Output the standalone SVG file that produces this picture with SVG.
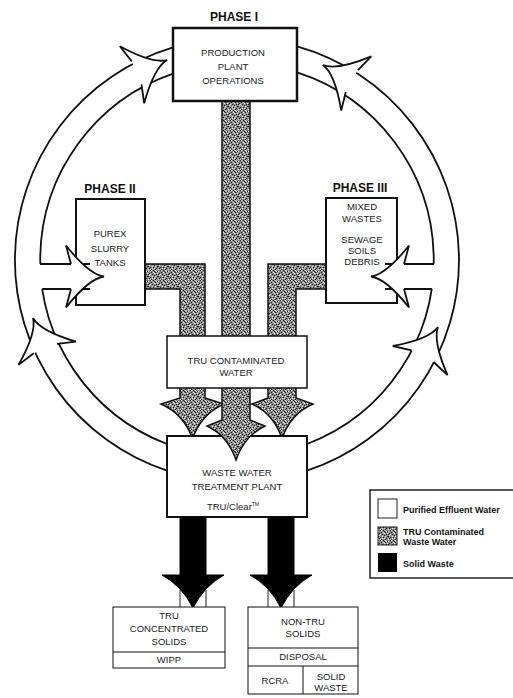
<svg xmlns="http://www.w3.org/2000/svg" xmlns:xlink="http://www.w3.org/1999/xlink" width="513" height="698" viewBox="0 0 513 698">
<style>
.box{fill:#fff;stroke:#111;}
.band{fill:#fff;stroke:#111;stroke-width:1.8;stroke-linejoin:round;}
.ln{fill:none;stroke:#111;stroke-width:1.8;}
.stip{fill:url(#stip);stroke:#111;stroke-width:1.5;stroke-linejoin:miter;}
.solid{fill:#000;stroke:#000;stroke-width:1;}
.t{font-family:"Liberation Sans",Arial,Helvetica,sans-serif;font-size:9.5px;fill:#222;text-anchor:middle;}
.ph{font-family:"Liberation Sans",Arial,Helvetica,sans-serif;font-size:12px;font-weight:bold;fill:#111;text-anchor:middle;}
.lg{font-family:"Liberation Sans",Arial,Helvetica,sans-serif;font-size:9px;font-weight:bold;fill:#111;}
</style>
<defs>
<pattern id="stip" width="10" height="10" patternUnits="userSpaceOnUse">
<rect width="10" height="10" fill="#8e8e8e"/>
<path d="M0 0h1v1H0zM3 0h1v1H3zM7 1h1v1H7zM1 2h1v1H1zM5 2h1v1H5zM9 3h1v1H9zM2 4h1v1H2zM6 4h1v1H6zM4 5h1v1H4zM8 6h1v1H8zM0 7h1v1H0zM3 7h1v1H3zM6 8h1v1H6zM9 8h1v1H9zM1 9h1v1H1zM5 9h1v1H5zM7 6h1v1H7zM4 1h1v1H4zM8 4h1v1H8z" fill="#1a1a1a"/>
<path d="M1 0h1v1H1zM5 0h1v1H5zM8 1h1v1H8zM3 2h1v1H3zM0 4h1v1H0zM4 3h1v1H4zM7 3h1v1H7zM9 5h1v1H9zM2 6h1v1H2zM5 6h1v1H5zM4 8h1v1H4zM8 9h1v1H8zM0 9h1v1H0zM2 8h1v1H2zM6 1h1v1H6z" fill="#e6e6e6"/>
</pattern>
<g id="head">
<path d="M0,0 Q-15,2 -38,31 L-33,12.5 L-33,-12.5 L-38,-31 Q-15,-2 0,0 Z" fill="#fff" stroke="none"/>
<path d="M-33,12.5 L-38,31 Q-15,2 0,0 Q-15,-2 -38,-31 L-33,-12.5" fill="none" stroke="#111" stroke-width="1.8" stroke-linejoin="miter"/>
</g>
</defs>

<g id="connectors">
<path class="band" d="M173,47.4 A222,222 0 0 0 167,470.7 L167,444 A197,197 0 0 1 173,73.7 Z"/>
<path class="band" d="M297,46.3 A222,222 0 0 1 307,470.7 L307,444 A197,197 0 0 0 297,72.4 Z"/>
<use xlink:href="#head" transform="translate(167,60) rotate(-23)"/>
<use xlink:href="#head" transform="translate(323,65) rotate(-151)"/>
<use xlink:href="#head" transform="translate(33,318) rotate(-112)"/>
<use xlink:href="#head" transform="translate(438,327) rotate(-62)"/>
<path class="stip" d="M180,386 V398 L161,404 Q184,414 192.5,439 Q201,414 224,404 L205,398 V386 Z"/>
<path class="stip" d="M268,386 V398 L252,404 Q274,414 282,439 Q290,414 313,404 L296,398 V386 Z"/>
</g>

<g id="wwtp">
<rect class="box" x="167" y="436" width="140" height="81" stroke-width="2"/>
<text class="t" x="237" y="476">WASTE WATER</text>
<text class="t" x="237" y="490">TREATMENT PLANT</text>
<text class="t" x="233" y="510" font-size="8.5">TRU/Clear<tspan font-size="5" dy="-4">TM</tspan></text>
</g>

<g id="connectors2">
<path class="stip" d="M222,98 V420 L207,426 Q228,436 236,460 Q244,436 265,426 L250,420 V98 Z"/>
<path class="stip" d="M140,264 H205 V340 H180 V289 H140 Z"/>
<path class="stip" d="M332,264 H268 V340 H296 V289 H332 Z"/>
</g>

<g id="tru-water">
<rect class="box" x="167" y="336" width="140" height="52" stroke-width="1.5"/>
<text class="t" x="236" y="364">TRU CONTAMINATED</text>
<text class="t" x="236" y="376">WATER</text>
</g>

<g id="phase1">
<text class="ph" x="234" y="21">PHASE I</text>
<rect class="box" x="173" y="28" width="124" height="73" stroke-width="2.5"/>
<text class="t" x="233" y="56">PRODUCTION</text>
<text class="t" x="233" y="70">PLANT</text>
<text class="t" x="233" y="84">OPERATIONS</text>
</g>

<g id="phase2">
<text class="ph" x="110" y="193">PHASE II</text>
<rect class="box" x="76" y="199" width="69" height="106" stroke-width="2"/>
<text class="t" x="110" y="237">PUREX</text>
<text class="t" x="110" y="252">SLURRY</text>
<text class="t" x="110" y="266">TANKS</text>
</g>

<g id="phase3">
<text class="ph" x="360" y="192">PHASE III</text>
<rect class="box" x="326" y="198" width="71" height="105" stroke-width="2"/>
<text class="t" x="362" y="210">MIXED</text>
<text class="t" x="362" y="222">WASTES</text>
<text class="t" x="362" y="243">SEWAGE</text>
<text class="t" x="362" y="254">SOILS</text>
<text class="t" x="362" y="265">DEBRIS</text>
</g>

<g id="connectors3">
<rect x="36" y="264" width="42" height="25" fill="#fff"/>
<path class="ln" d="M40,264 H90 M42.1,289 H90"/>
<use xlink:href="#head" transform="translate(104,276.5)"/>
<rect x="394" y="264" width="44" height="25" fill="#fff"/>
<path class="ln" d="M385,264 H434 M385,289 H431.9"/>
<use xlink:href="#head" transform="translate(371,276.5) rotate(180)"/>
<path class="solid" d="M180,517 V575 H162 Q182,586 193,608 Q204,586 224,575 H206 V517 Z"/>
<path class="solid" d="M268,517 V575 H250 Q270,586 281,608 Q292,586 312,575 H294 V517 Z"/>
<path d="M180,590 V607 M206,590 V607 M268,590 V607 M294,590 V607" stroke="#222" stroke-width="1" fill="none"/>
</g>

<g id="tru-solids">
<rect class="box" x="113" y="607" width="112" height="61" stroke-width="1"/>
<line x1="113" y1="652" x2="225" y2="652" stroke="#111" stroke-width="1"/>
<text class="t" x="169" y="619">TRU</text>
<text class="t" x="169" y="632">CONCENTRATED</text>
<text class="t" x="169" y="645">SOLIDS</text>
<text class="t" x="169" y="663" font-size="8.5">WIPP</text>
</g>

<g id="non-tru-solids">
<rect class="box" x="248" y="607" width="110" height="87" stroke-width="1"/>
<line x1="248" y1="648" x2="358" y2="648" stroke="#111" stroke-width="1"/>
<line x1="248" y1="666" x2="358" y2="666" stroke="#111" stroke-width="1"/>
<line x1="303" y1="666" x2="303" y2="694" stroke="#111" stroke-width="1"/>
<text class="t" x="303" y="625">NON-TRU</text>
<text class="t" x="303" y="637">SOLIDS</text>
<text class="t" x="303" y="660">DISPOSAL</text>
<text class="t" x="275" y="684" font-size="9">RCRA</text>
<text class="t" x="331" y="680" font-size="9">SOLID</text>
<text class="t" x="331" y="691" font-size="9">WASTE</text>
</g>

<g id="legend">
<rect x="370" y="490" width="150" height="88" fill="#fff" stroke="#222" stroke-width="1.5"/>
<rect x="378" y="499" width="19" height="19" fill="#fff" stroke="#222" stroke-width="1"/>
<rect x="378" y="527" width="19" height="18" fill="url(#stip)" stroke="#222" stroke-width="1"/>
<rect x="378" y="553" width="19" height="19" fill="#000"/>
<text class="lg" x="403" y="513">Purified Effluent Water</text>
<text class="lg" x="403" y="535">TRU Contaminated</text>
<text class="lg" x="403" y="545">Waste Water</text>
<text class="lg" x="403" y="567">Solid Waste</text>
</g>
</svg>
